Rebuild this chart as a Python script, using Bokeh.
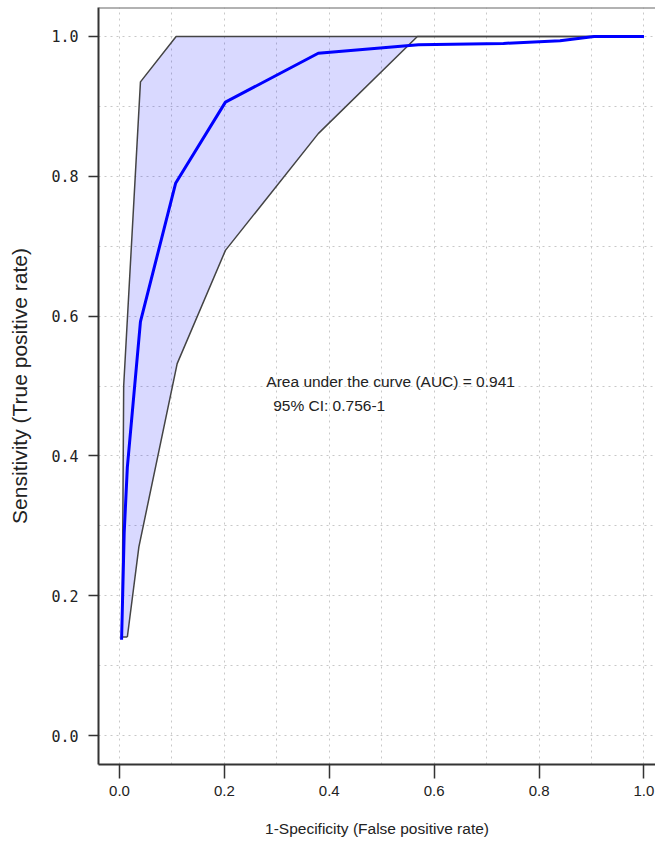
from bokeh.plotting import figure
from bokeh.models import Range1d, FixedTicker, Span, ColumnDataSource, Title, CustomJSTickFormatter
from bokeh.core.properties import value
from bokeh.embed import file_html
from bokeh.resources import INLINE

# ROC curve (1-specificity, sensitivity)
fpr = [0.004, 0.009, 0.015, 0.040, 0.107, 0.202, 0.379, 0.570, 0.732, 0.840, 0.905, 1.0]
tpr = [0.137, 0.290, 0.384, 0.592, 0.790, 0.906, 0.976, 0.988, 0.990, 0.994, 1.000, 1.0]

# confidence band bounds
ci_upper_fpr = [0.005, 0.008, 0.040, 0.108, 1.0]
ci_upper_tpr = [0.141, 0.500, 0.935, 1.000, 1.0]
ci_lower_fpr = [0.015, 0.037, 0.110, 0.202, 0.379, 0.568, 1.0]
ci_lower_tpr = [0.141, 0.270, 0.532, 0.694, 0.861, 1.000, 1.0]

x_ticks = [0.0, 0.2, 0.4, 0.6, 0.8, 1.0]
y_ticks = [0.0, 0.2, 0.4, 0.6, 0.8, 1.0]
grid_ticks = [0.0, 0.1, 0.2, 0.3, 0.4, 0.5, 0.6, 0.7, 0.8, 0.9, 1.0]

annot_text = ["Area under the curve (AUC) = 0.941", "95% CI: 0.756-1"]
annot_x = [0.28, 0.293]
annot_y = [0.507, 0.472]

x_title = "1-Specificity (False positive rate)"
y_title = "Sensitivity (True positive rate)"

NARROW = "'Liberation Sans Narrow', 'Arial Narrow', 'Liberation Sans'"

p = figure(frame_width=557, frame_height=757,
           min_border_left=98, min_border_right=0, min_border_top=7, min_border_bottom=83,
           x_range=Range1d(-0.04, 1.022), y_range=Range1d(-0.0414, 1.0414),
           output_backend="svg", toolbar_location=None)

p.outline_line_color = None
p.background_fill_color = "white"
p.border_fill_color = "white"

# grid
for g in (p.xgrid, p.ygrid):
    g.ticker = FixedTicker(ticks=grid_ticks)
    g.grid_line_color = "#c8c8c8"
    g.grid_line_dash = "2 4"
    g.grid_line_width = 1

# axes
p.xaxis.ticker = FixedTicker(ticks=x_ticks)
p.yaxis.ticker = FixedTicker(ticks=y_ticks)
for ax in (p.xaxis, p.yaxis):
    ax.axis_line_color = "#333333"
    ax.axis_line_width = 2
    ax.major_tick_line_color = "#333333"
    ax.major_tick_line_width = 1.5
    ax.major_tick_in = 0
    ax.minor_tick_line_color = None
    ax.major_label_text_color = "#222222"
    ax.axis_label_text_color = "#222222"
    ax.axis_label_text_font_style = "normal"
    ax.formatter = CustomJSTickFormatter(code="return tick.toFixed(1);")

p.xaxis.major_tick_out = 14
p.xaxis.major_label_text_font = NARROW
p.xaxis.major_label_text_font_size = "15px"
p.xaxis.major_label_standoff = 7

p.yaxis.major_tick_out = 10
p.yaxis.axis_label = y_title
p.yaxis.axis_label_text_font = "Liberation Sans"
p.yaxis.axis_label_text_font_size = "21px"
p.yaxis.major_label_text_font = "DejaVu Sans Mono"
p.yaxis.major_label_text_font_size = "15px"
p.yaxis.major_label_standoff = 10
p.yaxis.axis_label_standoff = 17

# x-axis title below the axis, shifted right as in the original
p.add_layout(Title(text=x_title, align="center", offset=16, standoff=39,
                   text_font=NARROW, text_font_size="15.5px",
                   text_color="#222222", text_font_style="normal"), "below")

# top frame line
p.add_layout(Span(location=1.0414, dimension="width", line_color="#666666", line_width=2))

# confidence band
band_x = ci_upper_fpr + ci_lower_fpr[::-1]
band_y = ci_upper_tpr + ci_lower_tpr[::-1]
p.patch(band_x, band_y, fill_color="blue", fill_alpha=0.15, line_color=None)
p.line(ci_upper_fpr, ci_upper_tpr, line_color="#444444", line_width=1.5)
p.line(ci_lower_fpr, ci_lower_tpr, line_color="#444444", line_width=1.5)
p.line([ci_upper_fpr[0], ci_lower_fpr[0]], [ci_upper_tpr[0], ci_lower_tpr[0]],
       line_color="#444444", line_width=1.5)

# ROC curve
p.line(fpr, tpr, line_color="#0000ff", line_width=3)

# annotation
src = ColumnDataSource(dict(x=annot_x, y=annot_y, t=annot_text))
p.text(x="x", y="y", text="t", source=src, text_font=value(NARROW),
       text_font_size="15.5px", text_color="#222222",
       text_align="left", text_baseline="middle")

open("out.html", "w").write(file_html(p, INLINE))
